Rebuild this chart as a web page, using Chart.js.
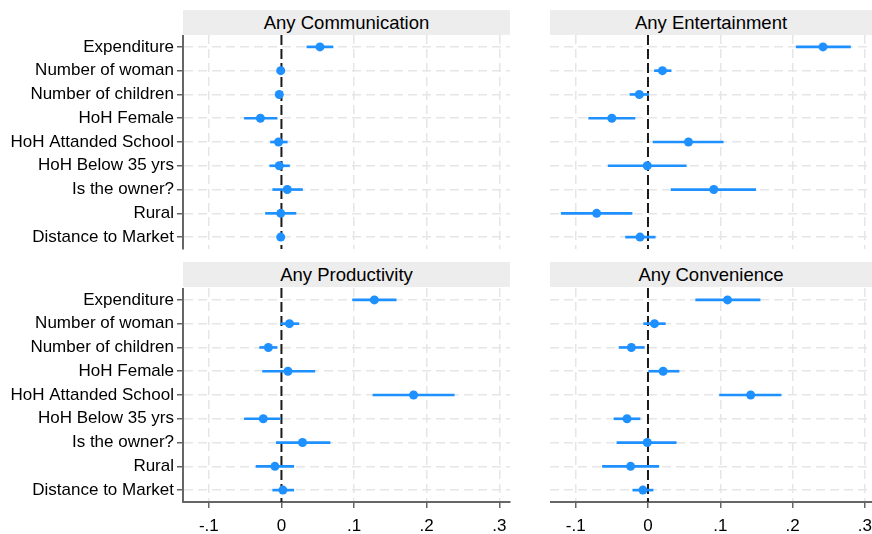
<!DOCTYPE html>
<html>
<head>
<meta charset="utf-8">
<script src="https://cdn.jsdelivr.net/npm/chart.js@4.4.1/dist/chart.umd.min.js"></script>
<style>
  body { margin: 0; background: #fff; width: 872px; height: 534px; overflow: hidden; position: relative; font-family: "Liberation Sans", Arial, sans-serif; }
  .hdr { position: absolute; background: #ededed; color: #000; font-size: 18.5px; text-align: center; line-height: 25px; height: 25px; }
  canvas { position: absolute; }
</style>
</head>
<body>
<div class="hdr" style="left:183px;top:10px;width:327px;">Any Communication</div>
<div class="hdr" style="left:550px;top:10px;width:322px;">Any Entertainment</div>
<div class="hdr" style="left:183px;top:262px;width:327px;">Any Productivity</div>
<div class="hdr" style="left:550px;top:262px;width:322px;">Any Convenience</div>
<canvas id="c1" width="512" height="216" style="left:0;top:35px"></canvas>
<canvas id="c2" width="322" height="216" style="left:550px;top:35px"></canvas>
<canvas id="c3" width="512" height="246" style="left:0;top:288px"></canvas>
<canvas id="c4" width="322" height="246" style="left:550px;top:288px"></canvas>
<script>
const categories = ["Expenditure", "Number of woman", "Number of children", "HoH Female",
  "HoH Attanded School", "HoH Below 35 yrs", "Is the owner?", "Rural", "Distance to Market"];
const xTicks = [-0.1, 0, 0.1, 0.2, 0.3];
const xTickLabels = ["-.1", "0", ".1", ".2", ".3"];

// point estimates and 95% CI bounds
const commEst = [0.053, -0.001, -0.003, -0.029, -0.004, -0.003, 0.008, -0.001, -0.001];
const commLo  = [0.035, -0.004, -0.005, -0.051, -0.015, -0.016, -0.012, -0.022, -0.004];
const commHi  = [0.071, 0.002, 0.000, -0.006, 0.008, 0.011, 0.029, 0.020, 0.002];

const entEst = [0.242, 0.020, -0.012, -0.050, 0.056, -0.001, 0.091, -0.071, -0.011];
const entLo  = [0.205, 0.009, -0.025, -0.082, 0.007, -0.055, 0.032, -0.120, -0.031];
const entHi  = [0.280, 0.032, 0.001, -0.018, 0.104, 0.053, 0.149, -0.022, 0.010];

const prodEst = [0.128, 0.011, -0.018, 0.009, 0.182, -0.025, 0.029, -0.009, 0.002];
const prodLo  = [0.098, -0.001, -0.030, -0.026, 0.126, -0.051, -0.007, -0.035, -0.012];
const prodHi  = [0.158, 0.024, -0.006, 0.046, 0.238, 0.000, 0.067, 0.017, 0.017];

const convEst = [0.110, 0.009, -0.023, 0.021, 0.142, -0.029, -0.001, -0.024, -0.007];
const convLo  = [0.066, -0.006, -0.040, 0.000, 0.099, -0.047, -0.043, -0.063, -0.021];
const convHi  = [0.155, 0.024, -0.005, 0.043, 0.184, -0.011, 0.039, 0.015, 0.007];

const blue = "#1e90ff";
const gridColor = "#e6e6e6";
const axisColor = "#666666";
const font = { family: "'Liberation Sans', Arial, sans-serif", size: 17 };

const zeroLine = {
  id: "zeroLine",
  beforeDatasetsDraw(chart) {
    const { ctx, chartArea, scales } = chart;
    const px = scales.x.getPixelForValue(0);
    ctx.save();
    ctx.strokeStyle = "#1a1a1a";
    ctx.lineWidth = 2;
    ctx.setLineDash([10, 4]);
    ctx.beginPath();
    ctx.moveTo(px, chartArea.top);
    ctx.lineTo(px, chartArea.bottom);
    ctx.stroke();
    ctx.restore();
  }
};

function makePanel(id, est, lo, hi, showY, showX, xMin, xMax) {
  new Chart(document.getElementById(id), {
    type: "bar",
    data: {
      labels: categories,
      datasets: [
        {
          type: "line",
          data: categories.map((c, i) => ({ x: est[i], y: c })),
          showLine: false,
          pointRadius: 4.5,
          pointBackgroundColor: blue,
          pointBorderWidth: 0,
          order: 0
        },
        {
          type: "bar",
          data: categories.map((c, i) => [lo[i], hi[i]]),
          backgroundColor: blue,
          borderWidth: 0,
          barThickness: 2,
          borderSkipped: false,
          order: 1
        }
      ]
    },
    options: {
      indexAxis: "y",
      responsive: false,
      animation: false,
      events: [],
      layout: { autoPadding: false, padding: { left: 0, right: showY ? 2 : 0, top: 0, bottom: showX ? 0 : 2 } },
      plugins: { legend: { display: false }, tooltip: { enabled: false } },
      scales: {
        x: {
          type: "linear",
          min: xMin,
          max: xMax,
          afterBuildTicks: s => { s.ticks = xTicks.map(v => ({ value: v })); },
          afterFit: s => {
            s.height = showX ? 32 : 0;
            s.paddingLeft = 0; s.paddingRight = 0;
          },
          ticks: {
            display: showX,
            color: "#000",
            font: font,
            padding: 8,
            maxRotation: 0,
            callback: (v) => xTickLabels[xTicks.indexOf(v)]
          },
          grid: {
            color: c => (c.tick && c.tick.value === 0) ? "rgba(0,0,0,0)" : gridColor,
            lineWidth: 1.5,
            drawTicks: showX,
            tickLength: 6,
            tickColor: axisColor,
            tickWidth: 1.5
          },
          border: { display: showX, color: axisColor, width: 2, dash: [9, 5] }
        },
        y: {
          type: "category",
          offset: true,
          afterFit: s => {
            s.width = showY ? 183 : 0;
            s.paddingTop = 0; s.paddingBottom = 0;
          },
          ticks: { display: showY, autoSkip: false, color: "#000", font: font, padding: 3 },
          grid: {
            offset: false,
            color: gridColor,
            lineWidth: 1.5,
            drawTicks: showY,
            tickLength: 6,
            tickColor: axisColor,
            tickWidth: 1.5
          },
          border: { display: showY, color: axisColor, width: 2, dash: [9, 5] }
        }
      }
    },
    plugins: [zeroLine]
  });
}

const leftMin = -0.1356, leftMax = 0.3148;
const rightMin = -0.1355, rightMax = 0.3098;
makePanel("c1", commEst, commLo, commHi, true, false, leftMin, leftMax);
makePanel("c2", entEst, entLo, entHi, false, false, rightMin, rightMax);
makePanel("c3", prodEst, prodLo, prodHi, true, true, leftMin, leftMax);
makePanel("c4", convEst, convLo, convHi, false, true, rightMin, rightMax);
</script>
</body>
</html>
